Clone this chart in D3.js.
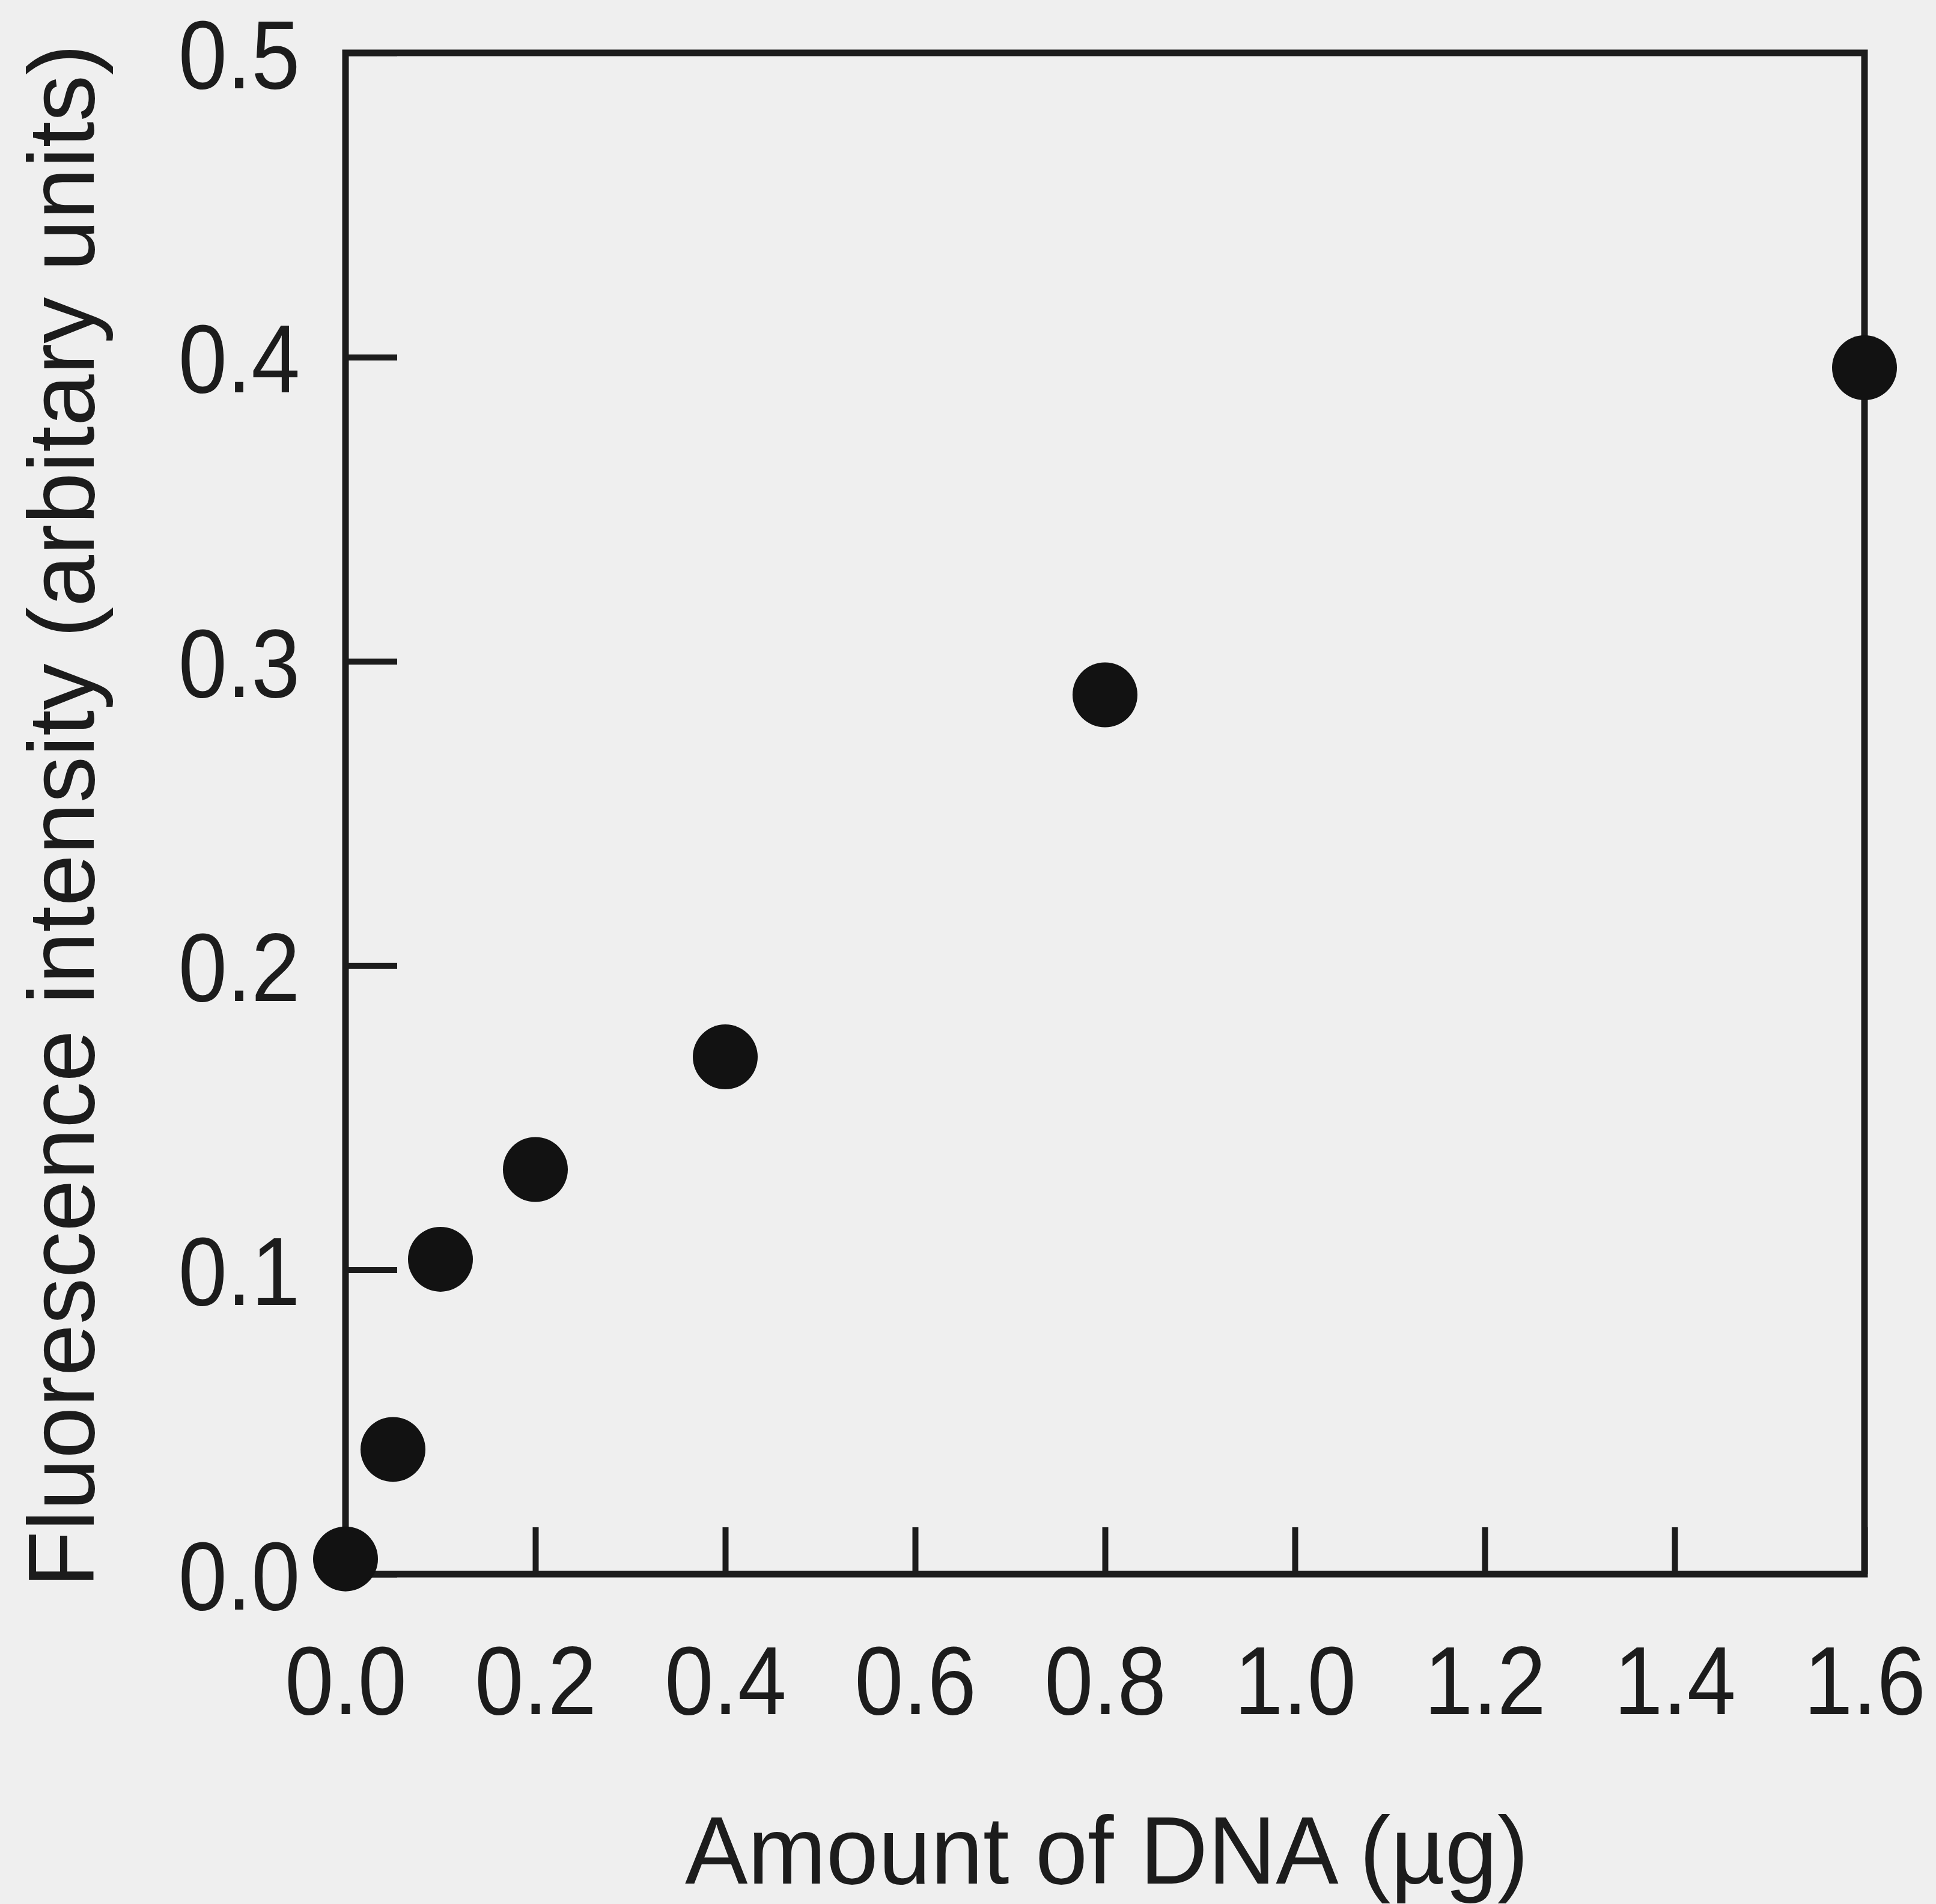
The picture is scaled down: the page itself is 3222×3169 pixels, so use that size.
<!DOCTYPE html>
<html>
<head>
<meta charset="utf-8">
<script src="https://cdn.jsdelivr.net/npm/d3@7"></script>
<style>
  html, body { margin: 0; padding: 0; background: #efefef; }
  svg { display: block; }
  .tick text { font-family: "Liberation Sans", Arial, sans-serif; fill: #1c1c1c; }
  .title { font-family: "Liberation Sans", Arial, sans-serif; fill: #1c1c1c; }
</style>
</head>
<body>
<svg></svg>
<script>
var width = 3222;
var height = 3169;

var dnaAmount = [0.0, 0.05, 0.1, 0.2, 0.4, 0.8, 1.6];
var fluorescence = [0.005, 0.041, 0.1035, 0.133, 0.170, 0.289, 0.3965];
var xTicks = [0.0, 0.2, 0.4, 0.6, 0.8, 1.0, 1.2, 1.4, 1.6];
var yTicks = [0.0, 0.1, 0.2, 0.3, 0.4, 0.5];
var xTitle = "Amount of DNA (µg)";
var yTitle = "Fluorescence intensity (arbitary units)";

var svg = d3.select("svg").attr("width", width).attr("height", height);

svg.append("rect").attr("width", width).attr("height", height).attr("fill", "#efefef");

var x = d3.scaleLinear().domain([0, 1.6]).range([575, 3103]);
var y = d3.scaleLinear().domain([0, 0.5]).range([2620, 88]);

var ink = "#1c1c1c";

var xAxis = svg.append("g")
  .attr("transform", "translate(0," + y(0) + ")")
  .call(d3.axisBottom(x).tickValues(xTicks).tickFormat(d3.format(".1f"))
    .tickSizeInner(-78).tickSizeOuter(0).tickPadding(118));

var yAxis = svg.append("g")
  .attr("transform", "translate(" + x(0) + ",0)")
  .call(d3.axisLeft(y).tickValues(yTicks).tickFormat(d3.format(".1f"))
    .tickSizeInner(-86).tickSizeOuter(0).tickPadding(75));

[xAxis, yAxis].forEach(function(g){
  g.select(".domain").remove();
  g.selectAll(".tick line").attr("stroke", ink).attr("stroke-width", 10);
  g.selectAll(".tick text").attr("font-size", 162);
});
xAxis.selectAll(".tick text").attr("transform", "scale(0.9,1)");
yAxis.selectAll(".tick text").attr("x", -84).attr("transform", "scale(0.9,1)").attr("dy", "0.36em");

// frame
svg.append("rect")
  .attr("x", x(0)).attr("y", y(0.5))
  .attr("width", x(1.6) - x(0)).attr("height", y(0) - y(0.5))
  .attr("fill", "none").attr("stroke", ink).attr("stroke-width", 11);

// points
svg.append("g").selectAll("circle").data(dnaAmount)
  .enter()
  .append("circle")
  .attr("cx", function(d){ return x(d); })
  .attr("cy", function(d, i){ return y(fluorescence[i]); })
  .attr("r", 54)
  .attr("fill", "#121212");

// titles
svg.append("text")
  .attr("class", "title")
  .attr("x", 1842).attr("y", 3135)
  .attr("text-anchor", "middle")
  .attr("font-size", 160)
  .attr("textLength", 1404).attr("lengthAdjust", "spacingAndGlyphs")
  .text(xTitle);

svg.append("text")
  .attr("class", "title")
  .attr("transform", "translate(156,1358) rotate(-90)")
  .attr("text-anchor", "middle")
  .attr("font-size", 156)
  .attr("textLength", 2569).attr("lengthAdjust", "spacingAndGlyphs")
  .text(yTitle);
</script>
</body>
</html>
